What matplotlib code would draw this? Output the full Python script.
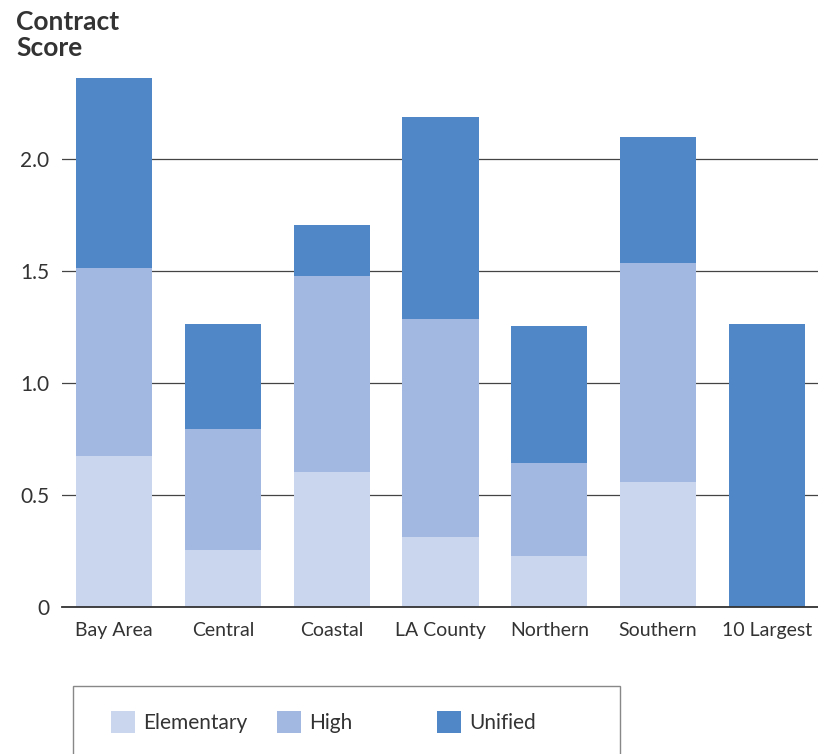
import matplotlib
matplotlib.use("Agg")
import matplotlib.pyplot as plt
from matplotlib.patches import Patch, Rectangle
import numpy as np

plt.rcParams['font.family'] = ['Lato', 'DejaVu Sans']

categories = ["Bay Area", "Central", "Coastal", "LA County", "Northern", "Southern", "10 Largest"]
elementary = [0.674, 0.254, 0.603, 0.313, 0.228, 0.558, 0.0]
high = [0.839, 0.541, 0.875, 0.973, 0.415, 0.978, 0.0]
unified = [0.849, 0.468, 0.227, 0.902, 0.611, 0.562, 1.263]
series_names = ["Elementary", "High", "Unified"]
colors = ["#C9D6EE", "#A2B8E0", "#5087C7"]
yticks = [0, 0.5, 1.0, 1.5, 2.0]
ytick_labels = ["0", "0.5", "1.0", "1.5", "2.0"]

W, H = 818, 754
fig = plt.figure(figsize=(W / 100, H / 100), dpi=100)
ax_left, ax_bottom = 62 / W, (H - 607) / H
ax = fig.add_axes([ax_left, ax_bottom, 1 - ax_left, 537.6 / H])

x = np.arange(len(categories))
bottom = np.zeros(len(categories))
for vals, col in zip([elementary, high, unified], colors):
    ax.bar(x, vals, width=0.70, bottom=bottom, color=col, zorder=3, linewidth=0)
    bottom += np.array(vals)

ax.set_xlim(-0.48, 6.47)
ax.set_ylim(0, 2.4)
ax.set_yticks(yticks)
ax.set_yticklabels(ytick_labels)
ax.set_xticks(x)
ax.set_xticklabels(categories)
ax.tick_params(axis='both', length=0, labelsize=14, colors="#333333")
ax.tick_params(axis='y', pad=9, labelsize=15)
ax.tick_params(axis='x', pad=11)
ax.yaxis.grid(True, color="#444444", linewidth=0.9, zorder=1)
ax.set_axisbelow(True)
for s in ["top", "right", "left"]:
    ax.spines[s].set_visible(False)
ax.spines["bottom"].set_color("#333333")
ax.spines["bottom"].set_linewidth(1.3)
ax.spines["bottom"].set_zorder(4)

fig.text(16 / W, 1 - 10 / H, "Contract\nScore", ha="left", va="top",
         fontsize=19, fontweight="bold", color="#333333", linespacing=1.12)

# legend frame (extends beyond bottom edge like the reference)
fig.patches.append(Rectangle((73 / W, -0.05), (620 - 73) / W, 0.05 + (H - 686) / H,
                             transform=fig.transFigure, fill=False,
                             edgecolor="#888888", linewidth=1.0))

handle_x = [111, 277, 437]
for name, col, hx in zip(series_names, colors, handle_x):
    fig.legend(handles=[Patch(facecolor=col, edgecolor="none")], labels=[name],
               loc="center left", bbox_to_anchor=(hx / W, 1 - 722 / H),
               frameon=False, fontsize=15, handlelength=1.15,
               handleheight=1.3, handletextpad=0.38, borderpad=0,
               borderaxespad=0, labelcolor="#333333")

fig.savefig("out.png", dpi=100)
